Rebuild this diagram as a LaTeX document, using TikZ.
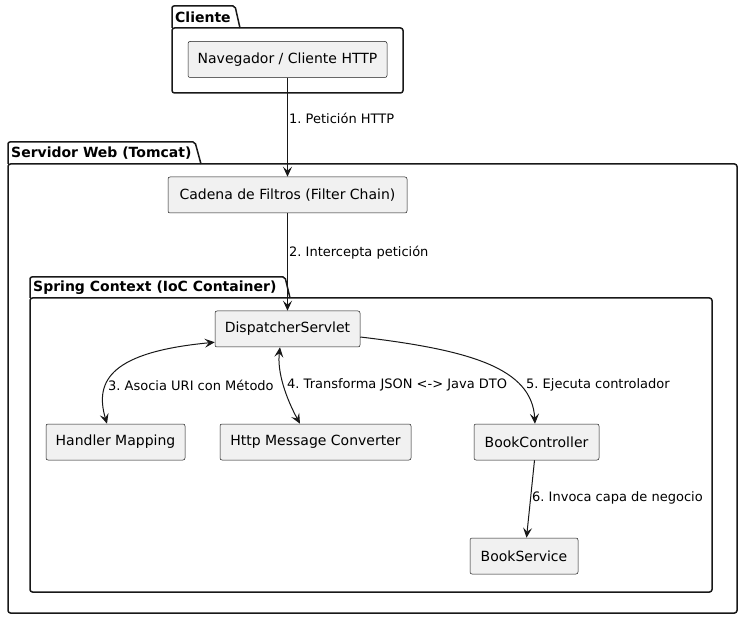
\documentclass[tikz,border=0pt]{standalone}
\usepackage{fontspec}
\setmainfont{DejaVu Sans}
\usetikzlibrary{arrows.meta,calc}
\definecolor{ln}{HTML}{181818}
\definecolor{nf}{HTML}{F1F1F1}
\frenchspacing
\tikzset{
  comp/.style={draw=ln, fill=nf, line width=0.5pt, rounded corners=2pt, minimum height=36pt, inner sep=0pt, font=\fontsize{14}{16}\selectfont},
  pkgline/.style={draw=ln, line width=1.5pt},
  pkgtitle/.style={anchor=west, inner sep=0pt, font=\bfseries\fontsize{14}{16}\selectfont},
  lbl/.style={anchor=west, inner sep=0pt, font=\fontsize{13}{15}\selectfont},
  conn/.style={draw=ln, line width=1pt},
  tip/.tip={Stealth[length=10pt, width=9pt, inset=4pt]},
}
\begin{document}
\begin{tikzpicture}[x=1pt,y=-1pt]
\useasboundingbox (0,0) rectangle (750,628);
% packages
\draw[pkgline, rounded corners=2.5pt] (172,28) rectangle (403,93);
\draw[pkgline] (172,28) -- (172,8) [rounded corners=2pt] -- (172,6) -- (235,6) -- (240,28);
\node[pkgtitle] (tcli) at (175,17) {Cliente};

\draw[pkgline, rounded corners=2.5pt] (8,164) rectangle (737,613);
\draw[pkgline] (8,164) -- (8,144) [rounded corners=2pt] -- (8,142) -- (195,142) -- (201,164);
\node[pkgtitle] (tsrv) at (11,153) {Servidor Web (Tomcat)};

\draw[pkgline, rounded corners=2.5pt] (30,298) rectangle (712,592);
\draw[pkgline] (30,298) -- (30,279) [rounded corners=2pt] -- (30,277) -- (285,277) -- (290,298);
\node[pkgtitle] (tspr) at (33,287.5) {Spring Context (IoC Container)};

% nodes
\node[comp, minimum width=199pt] (nav) at (287.5,59.5) {Navegador / Cliente HTTP};
\node[comp, minimum width=239pt] (cad) at (287.5,195) {Cadena de Filtros (Filter Chain)};
\node[comp, minimum width=145pt] (ds) at (287.5,329) {DispatcherServlet};
\node[comp, minimum width=139pt] (hm) at (115.5,442) {Handler Mapping};
\node[comp, minimum width=191pt] (hmc) at (315.5,442) {Http Message Converter};
\node[comp, minimum width=125pt] (bc) at (536.5,442) {BookController};
\node[comp, minimum width=108pt] (bs) at (524,556) {BookService};

% connectors
\draw[conn, -tip] (nav.south) -- (cad.north);
\node[lbl] (l1) at (289,118) {1. Petición HTTP};
\draw[conn, -tip] (cad.south) -- (ds.north);
\node[lbl] (l2) at (289,253) {2. Intercepta petición};

\draw[conn, tip-tip] ([yshift=5pt]ds.south west) .. controls (112,352) and (94,380) .. ([xshift=-8.5pt]hm.north);
\node[lbl] (l3) at (108,385) {3. Asocia URI con Método};

\draw[conn, tip-tip] ([xshift=-7.5pt]ds.south) .. controls (277,372) and (286,398) .. ([xshift=-15.5pt]hmc.north);
\node[lbl] (l4) at (287,385) {4. Transforma JSON <-> Java DTO};

\draw[conn, -tip] ([yshift=-8pt]ds.east) .. controls (470,350) and (532,368) .. ([xshift=-1.5pt]bc.north);
\node[lbl] (l5) at (526,385) {5. Ejecuta controlador};

\draw[conn, -tip] ([xshift=-2pt]bc.south) -- ([xshift=2.5pt]bs.north);
\node[lbl] (l6) at (532,498) {6. Invoca capa de negocio};
\end{tikzpicture}
\end{document}
